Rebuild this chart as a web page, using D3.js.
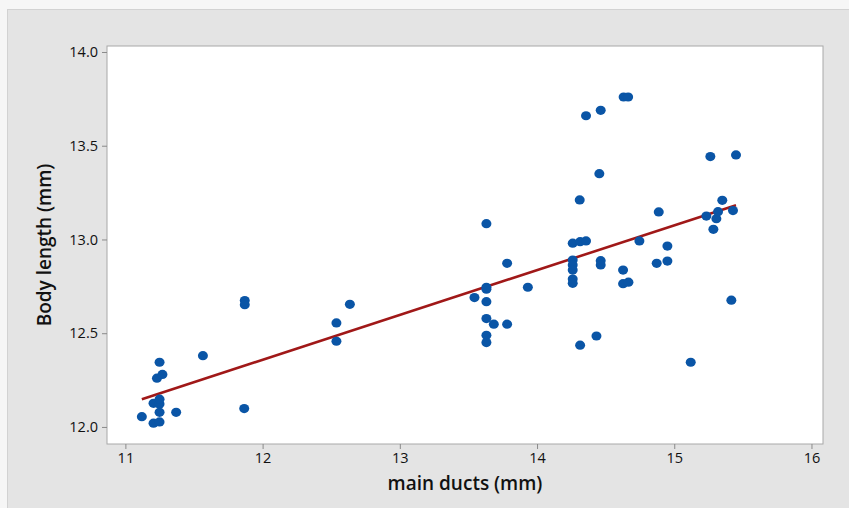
<!DOCTYPE html>
<html>
<head>
<meta charset="utf-8">
<script src="https://cdn.jsdelivr.net/npm/d3@7"></script>
<style>
  html, body { margin: 0; padding: 0; background: #f6f6f6; }
  svg { display: block; }
</style>
</head>
<body>
<svg id="chart" width="849" height="508"></svg>
<script>
// ---- Data ----
const mainDucts = [
  11.12, 11.205, 11.249, 11.249, 11.37, 11.205, 11.249, 11.249, 11.23, 11.27,
  11.249, 11.565, 11.866, 11.87, 11.87, 12.538, 12.538, 12.636,
  13.544, 13.631, 13.631, 13.631, 13.631, 13.631, 13.631, 13.631, 13.685, 13.782,
  13.782, 13.933,
  14.26, 14.314, 14.357, 14.26, 14.26, 14.26, 14.26, 14.26, 14.311, 14.314,
  14.357, 14.433, 14.454, 14.464, 14.464, 14.464, 14.627, 14.627, 14.666, 14.631,
  14.664, 14.746, 14.872, 14.887, 14.95, 14.95,
  15.12, 15.234, 15.263, 15.285, 15.307, 15.319, 15.35, 15.416, 15.428, 15.45
];
const bodyLength = [
  12.055, 12.02, 12.027, 12.078, 12.078, 12.126, 12.123, 12.148, 12.26, 12.28,
  12.345, 12.38, 12.098, 12.674, 12.652, 12.555, 12.457, 12.654,
  12.69, 13.084, 12.745, 12.735, 12.668, 12.578, 12.489, 12.45, 12.548, 12.548,
  12.873, 12.745,
  12.98, 12.988, 12.992, 12.89, 12.864, 12.837, 12.789, 12.766, 13.211, 12.436,
  13.66, 12.485, 13.351, 13.689, 12.887, 12.864, 12.837, 12.764, 12.772, 13.76,
  13.76, 12.992, 12.873, 13.147, 12.965, 12.885,
  12.345, 13.125, 13.442, 13.054, 13.111, 13.148, 13.209, 12.676, 13.154, 13.451
];
// fitted regression line (end points)
const fitX = [11.12, 15.45];
const fitY = [12.148, 13.183];

const xTicks = [11, 12, 13, 14, 15, 16];
const yTicks = [12.0, 12.5, 13.0, 13.5, 14.0];
const xTitle = "main ducts (mm)";
const yTitle = "Body length (mm)";

// ---- Layout ----
const W = 849, H = 508;
const plot = { left: 107, right: 823, top: 46, bottom: 444 };
const svg = d3.select("#chart");

// grey panel
svg.append("rect")
  .attr("x", 7.5).attr("y", 9.5)
  .attr("width", W).attr("height", H)
  .attr("fill", "#e4e4e4")
  .attr("stroke", "#d2d2d2");

const x = d3.scaleLinear().domain([10.866, 16.084]).range([plot.left, plot.right]);
const y = d3.scaleLinear().domain([11.909, 14.032]).range([plot.bottom, plot.top]);

// plot area
svg.append("rect")
  .attr("x", plot.left).attr("y", plot.top)
  .attr("width", plot.right - plot.left)
  .attr("height", plot.bottom - plot.top)
  .attr("fill", "#ffffff")
  .attr("stroke", "#a8a8a8")
  .attr("stroke-width", 1);

const fontFam = "'Open Sans', 'Noto Sans', sans-serif";

// axes
const xAxis = svg.append("g")
  .attr("transform", `translate(0,${plot.bottom})`)
  .call(d3.axisBottom(x).tickValues(xTicks).tickFormat(d3.format("d")).tickSize(5).tickPadding(4));
const yAxis = svg.append("g")
  .attr("transform", `translate(${plot.left},0)`)
  .call(d3.axisLeft(y).tickValues(yTicks).tickFormat(d3.format(".1f")).tickSize(5).tickPadding(4));

[xAxis, yAxis].forEach(g => {
  g.select(".domain").remove();
  g.selectAll(".tick line").attr("stroke", "#8a8a8a");
  g.selectAll(".tick text")
    .attr("fill", "#111111")
    .style("font-family", fontFam)
    .style("font-size", "14.5px")
    .style("font-weight", "500");
});

// regression line
const lineData = fitX.map((d, i) => [d, fitY[i]]);
svg.append("path")
  .datum(lineData)
  .attr("fill", "none")
  .attr("stroke", "#a01818")
  .attr("stroke-width", 2.6)
  .attr("d", d3.line().x(d => x(d[0])).y(d => y(d[1])));

// points
const pts = mainDucts.map((d, i) => [d, bodyLength[i]]);
svg.append("g")
  .selectAll("ellipse")
  .data(pts)
  .join("ellipse")
  .attr("cx", d => x(d[0]))
  .attr("cy", d => y(d[1]))
  .attr("rx", 5)
  .attr("ry", 4.6)
  .attr("fill", "#0a55a6");

// titles
svg.append("text")
  .attr("x", (plot.left + plot.right) / 2)
  .attr("y", 490)
  .attr("text-anchor", "middle")
  .attr("fill", "#111111")
  .style("font-family", fontFam)
  .style("font-size", "19px")
  .style("font-weight", "600")
  .text(xTitle);

svg.append("text")
  .attr("transform", `translate(51,${(plot.top + plot.bottom) / 2}) rotate(-90)`)
  .attr("text-anchor", "middle")
  .attr("fill", "#111111")
  .style("font-family", fontFam)
  .style("font-size", "19px")
  .style("font-weight", "600")
  .text(yTitle);
</script>
</body>
</html>
